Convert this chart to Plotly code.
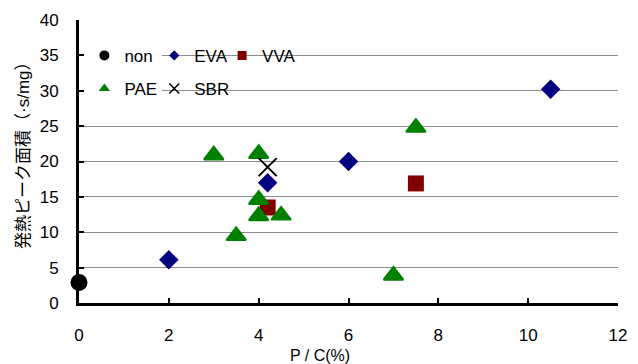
import plotly.graph_objects as go

# P/C ratio (%) and exothermic peak area for each binder type
non_x = [0]
non_y = [2.9]

eva_x = [2, 4.2, 6, 10.5]
eva_y = [6.1, 17.0, 20.0, 30.2]

vva_x = [4.2, 7.5]
vva_y = [13.5, 16.9]

pae_x = [3.0, 4.0, 4.0, 4.0, 4.5, 3.5, 7.5, 7.0]
pae_y = [20.9, 21.1, 14.6, 12.3, 12.4, 9.5, 24.8, 3.9]

sbr_x = [4.2]
sbr_y = [19.2]

x_ticks = [0, 2, 4, 6, 8, 10, 12]
y_ticks = [0, 5, 10, 15, 20, 25, 30, 35, 40]

FONT = "Arial, 'Liberation Sans', 'Noto Sans CJK JP', sans-serif"

series = [
    # name, xs, ys, symbol, color, size, line width, legend column, legend size
    ("non", non_x, non_y, "circle", "#000000", 17, 0, "legend", 10),
    ("PAE", pae_x, pae_y, "triangle-up", "#008000", 17, 2, "legend", 10),
    ("EVA", eva_x, eva_y, "diamond", "#000080", 15, 0, "legend2", 8),
    ("SBR", sbr_x, sbr_y, "x-thin-open", "#000000", 18, 2, "legend2", 10),
    ("VVA", vva_x, vva_y, "square", "#800000", 16, 0, "legend3", 9),
]

fig = go.Figure()

# data markers (drawn in the original series order)
for key in ["non", "EVA", "VVA", "PAE", "SBR"]:
    name, xs, ys, sym, col, size, lw, leg, lsize = next(s for s in series if s[0] == key)
    fig.add_trace(go.Scatter(
        x=xs, y=ys, mode="markers", name=name, showlegend=False,
        marker=dict(symbol=sym, size=size, color=col, line=dict(width=lw, color=col)),
        cliponaxis=False,
    ))

# legend entries with small symbols, arranged in three columns;
# the first column's white box is widened to sit behind all of them
for name, xs, ys, sym, col, size, lw, leg, lsize in series:
    lline = dict(width=1.5 if sym == "x-thin-open" else 0, color=col)
    fig.add_trace(go.Scatter(
        x=[None], y=[None], mode="markers", name=name, legend=leg,
        legendgroup=name,
        marker=dict(symbol=sym, size=lsize, color=col, line=lline),
    ))

legend_style = dict(
    orientation="v", y=0.937, xanchor="left", yanchor="top",
    bgcolor="rgba(0,0,0,0)", font=dict(size=17), tracegroupgap=8,
)

fig.update_layout(
    width=638, height=364,
    margin=dict(l=79, r=11, t=18, b=61),
    paper_bgcolor="white", plot_bgcolor="white",
    font=dict(family=FONT, size=17, color="#000000"),
    legend=dict(legend_style, x=0.01, bgcolor="white",
                entrywidth=170, entrywidthmode="pixels"),
    legend2=dict(legend_style, x=0.1396),
    legend3=dict(legend_style, x=0.2655),
    xaxis=dict(
        range=[0, 12], tickvals=x_ticks, ticks="inside", ticklen=5,
        tickwidth=2, tickcolor="#000000", showline=True, linewidth=3,
        linecolor="#000000", showgrid=False, zeroline=False,
        ticklabelstandoff=15,
    ),
    yaxis=dict(
        range=[0, 40], tickvals=y_ticks, ticks="inside", ticklen=5,
        tickwidth=2, tickcolor="#000000", showline=True, linewidth=3,
        linecolor="#000000", showgrid=True, gridcolor="#8c8c8c",
        gridwidth=1, zeroline=False, ticklabelstandoff=14,
    ),
    annotations=[
        dict(text="P / C(%)", xref="paper", yref="paper", x=0.447, y=-0.185,
             xanchor="center", yanchor="middle", showarrow=False,
             font=dict(size=16)),
        dict(text="発熱ピーク面積（·s/mg）", xref="paper", yref="paper",
             x=-0.104, y=0.537, xanchor="center", yanchor="middle",
             textangle=-90, showarrow=False, font=dict(size=17)),
    ],
)

fig.write_html("out.html")
